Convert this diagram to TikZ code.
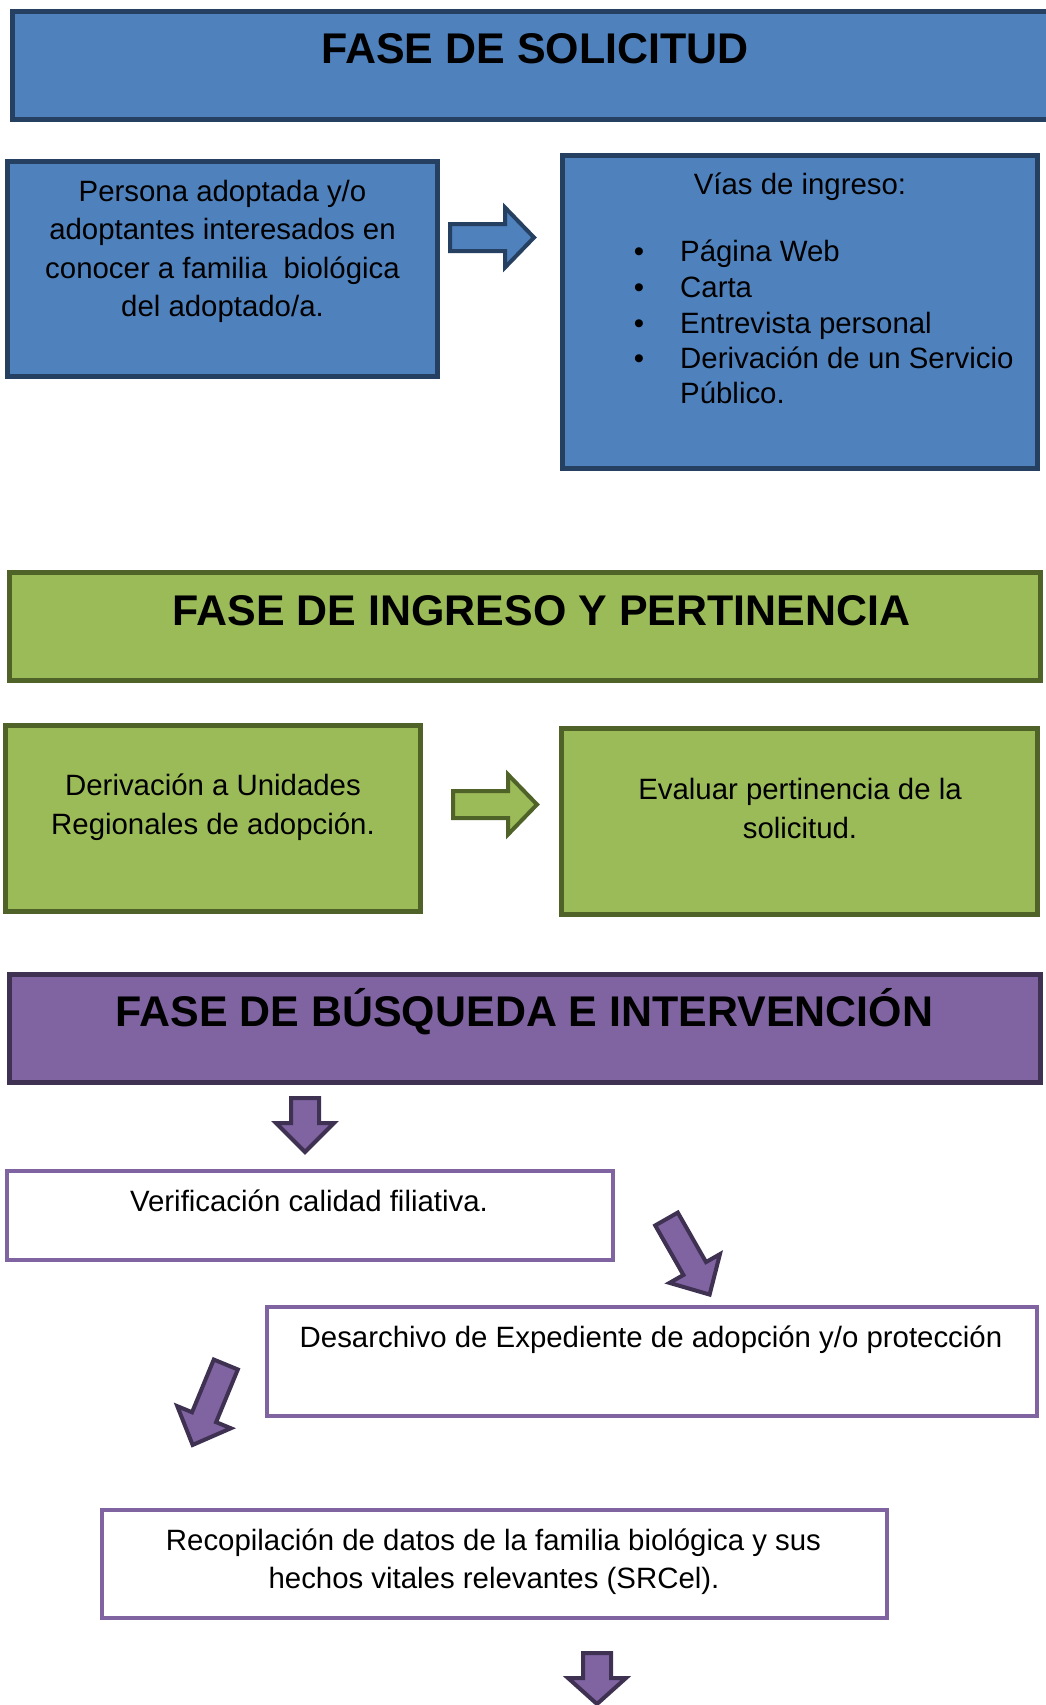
\documentclass[tikz,border=0pt]{standalone}
\usepackage{fontspec}
\setmainfont{Liberation Sans}
\definecolor{bfill}{HTML}{4F81BD}
\definecolor{bline}{HTML}{254061}
\definecolor{gfill}{HTML}{9BBB59}
\definecolor{gline}{HTML}{4F6228}
\definecolor{pfill}{HTML}{8064A2}
\definecolor{pline}{HTML}{3F3151}
\tikzset{
  box/.style={rectangle, inner sep=0pt, outer sep=0pt, line width=5bp},
  bluebox/.style={box, draw=bline, fill=bfill},
  greenbox/.style={box, draw=gline, fill=gfill},
  purplebox/.style={box, draw=pline, fill=pfill},
  whitebox/.style={box, line width=4bp, draw=pfill, fill=white},
  ttl/.style={font=\bfseries\fontsize{43.1}{50}\selectfont, anchor=base, inner sep=0pt},
  txt/.style={font=\fontsize{29.5}{36}\selectfont, anchor=base, inner sep=0pt},
  txtl/.style={txt, anchor=base west},
  pics/barrow/.style n args={4}{code={
    \path[pic actions] (-#1,0) -- (#1,0) -- (#1,#2) -- (#3,#2) -- (0,#2+#4) -- (-#3,#2) -- (-#1,#2) -- cycle;
  }},
  barr/.style={draw=bline, fill=bfill, line width=4bp, miter limit=10},
  garr/.style={draw=gline, fill=gfill, line width=4bp, miter limit=10},
  parr/.style={draw=pline, fill=pfill, line width=4bp, miter limit=10},
}
\begin{document}
\begin{tikzpicture}[x=1bp,y=-1bp]
\useasboundingbox[fill=white] (0,0) rectangle (1045,1705);

% ---- Fase de solicitud
\node[bluebox, minimum width=1040bp, minimum height=108bp] (t1) at (532.5,65.5) {};
\node[ttl] (t1txt) at (535,63) {FASE DE SOLICITUD};

\node[bluebox, minimum width=430bp, minimum height=215bp] (b1) at (222.5,269) {};
\node[txt] (b1l1) at (222.5,201) {Persona adoptada y/o};
\node[txt] (b1l2) at (222.5,239) {adoptantes interesados en};
\node[txt] (b1l3) at (222.5,278) {conocer a familia\ \ biológica};
\node[txt] (b1l4) at (222.5,316) {del adoptado/a.};

\pic[barr, rotate=90] (a1) at (450,237.5) {barrow={13.5}{55}{30}{29}};

\node[bluebox, minimum width=475bp, minimum height=313bp] (b2) at (800,312) {};
\node[txt] (b2l0) at (800,194) {Vías de ingreso:};
\node[txt] (bu1) at (639,261) {•};
\node[txt] (bu2) at (639,297) {•};
\node[txt] (bu3) at (639,333) {•};
\node[txt] (bu4) at (639,368) {•};
\node[txtl] (b2l1) at (680,261) {Página Web};
\node[txtl] (b2l2) at (680,297) {Carta};
\node[txtl] (b2l3) at (680,333) {Entrevista personal};
\node[txtl] (b2l4) at (680,368) {Derivación de un Servicio};
\node[txtl] (b2l5) at (680,403) {Público.};

% ---- Fase de ingreso y pertinencia
\node[greenbox, minimum width=1031bp, minimum height=108bp] (t2) at (525,626.5) {};
\node[ttl] (t2txt) at (541.5,625.4) {FASE DE INGRESO Y PERTINENCIA};

\node[greenbox, minimum width=415bp, minimum height=186bp] (g1) at (213,818) {};
\node[txt] (g1l1) at (213,795.5) {Derivación a Unidades};
\node[txt] (g1l2) at (213,834) {Regionales de adopción.};

\pic[garr, rotate=90] (a2) at (453,804.5) {barrow={13.5}{55}{30}{29}};

\node[greenbox, minimum width=476bp, minimum height=185.5bp] (g2) at (799.5,821.25) {};
\node[txt] (g2l1) at (800,799) {Evaluar pertinencia de la};
\node[txt] (g2l2) at (800,838.3) {solicitud.};

% ---- Fase de busqueda e intervencion
\node[purplebox, minimum width=1031bp, minimum height=108.5bp] (t3) at (525,1028.25) {};
\node[ttl] (t3txt) at (524.5,1026.3) {FASE DE BÚSQUEDA E INTERVENCIÓN};

\pic[parr] (a3) at (305,1098) {barrow={14}{25}{29}{29}};

\node[whitebox, minimum width=606bp, minimum height=89bp] (w1) at (310,1215.5) {};
\node[txt] (w1l1) at (309,1211.5) {Verificación calidad filiativa.};

\pic[parr, rotate=29.7] (a4) at (666.5,1219) {barrow={13}{57}{29}{30}};

\node[whitebox, minimum width=770bp, minimum height=109bp] (w2) at (652,1361.5) {};
\node[txt] (w2l1) at (651,1347) {Desarchivo de Expediente de adopción y/o protección};

\pic[parr, rotate=-22.4] (a5) at (225.8,1364.5) {barrow={13}{57}{29}{30}};

\node[whitebox, minimum width=785bp, minimum height=108bp] (w3) at (494.5,1564) {};
\node[txt] (w3l1) at (493.5,1550) {Recopilación de datos de la familia biológica y sus};
\node[txt] (w3l2) at (494,1588) {hechos vitales relevantes (SRCel).};

\pic[parr] (a6) at (597,1653) {barrow={14}{25}{29}{26}};
\end{tikzpicture}
\end{document}
